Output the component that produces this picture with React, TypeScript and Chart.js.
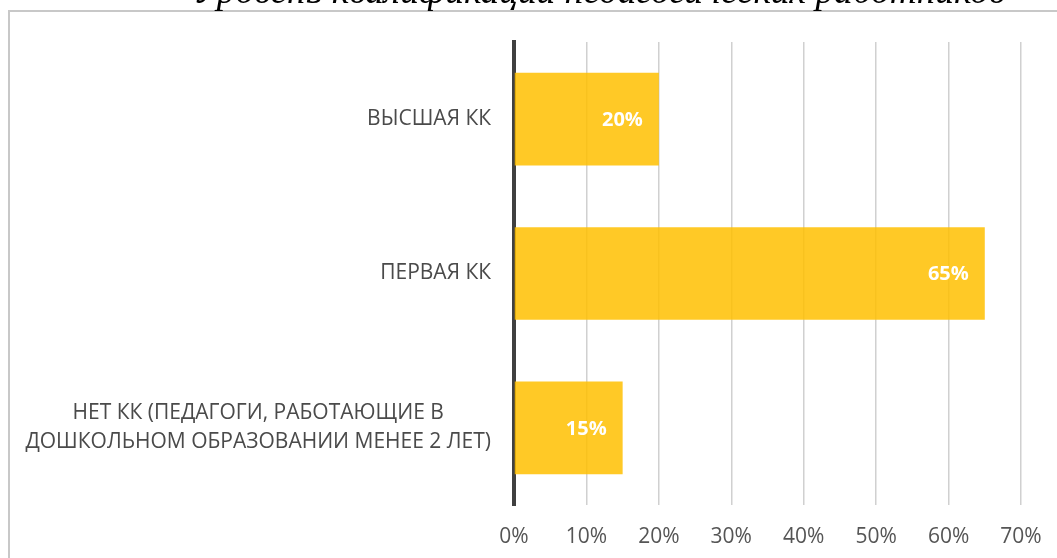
import React, { useEffect, useRef } from "react";
import { Chart, registerables } from "chart.js";

Chart.register(...registerables);

const TITLE = "Уровень квалификации педагогических работников";
const categories: string[][] = [
  ["ВЫСШАЯ КК"],
  ["ПЕРВАЯ КК"],
  ["НЕТ КК (ПЕДАГОГИ, РАБОТАЮЩИЕ В", "ДОШКОЛЬНОМ ОБРАЗОВАНИИ МЕНЕЕ 2 ЛЕТ)"],
];
const values: number[] = [20, 65, 15];
const xTicks: number[] = [0, 10, 20, 30, 40, 50, 60, 70];

const FONT = "'Open Sans', 'Noto Sans', sans-serif";

const framePlugin = {
  id: "frame",
  beforeDraw(chart: any) {
    const ctx = chart.ctx;
    ctx.save();
    ctx.fillStyle = "#ffffff";
    ctx.fillRect(0, 0, chart.width, chart.height);
    ctx.strokeStyle = "#c8c8c8";
    ctx.lineWidth = 2;
    ctx.beginPath();
    ctx.moveTo(9, chart.height + 5);
    ctx.lineTo(9, 11);
    ctx.lineTo(chart.width + 5, 11);
    ctx.stroke();
    // title (cut off at top)
    ctx.fillStyle = "#000000";
    ctx.textAlign = "center";
    ctx.textBaseline = "alphabetic";
    let size = 38;
    ctx.font = `italic ${size}px 'Liberation Serif', 'DejaVu Serif', serif`;
    const w = ctx.measureText(TITLE).width;
    size = size * (812 / w);
    ctx.font = `italic ${size}px 'Liberation Serif', 'DejaVu Serif', serif`;
    ctx.fillText(TITLE, 599, 3);
    ctx.restore();
  },
};

const labelsPlugin = {
  id: "catLabels",
  afterDraw(chart: any) {
    const ctx = chart.ctx;
    const yScale = chart.scales.y;
    ctx.save();
    ctx.font = `21px ${FONT}`;
    ctx.fillStyle = "#4a4a4a";
    ctx.textAlign = "center";
    ctx.textBaseline = "middle";
    const right = 491;
    const lh = 29;
    categories.forEach((lines, i) => {
      const cy = yScale.getPixelForValue(i);
      const maxW = Math.max(...lines.map((l) => ctx.measureText(l).width));
      const cx = right - maxW / 2;
      const startY = cy - ((lines.length - 1) * lh) / 2;
      lines.forEach((l, j) => ctx.fillText(l, cx, startY + j * lh));
    });
    // value labels
    const meta = chart.getDatasetMeta(0);
    ctx.font = `bold 20px ${FONT}`;
    ctx.fillStyle = "#ffffff";
    ctx.textAlign = "right";
    meta.data.forEach((bar: any, i: number) => {
      ctx.fillText(values[i] + "%", bar.x - 16, bar.y + 1);
    });
    ctx.restore();
  },
};

export default function App() {
  const ref = useRef<HTMLCanvasElement | null>(null);
  useEffect(() => {
    if (!ref.current) return;
    const chart = new Chart(ref.current, {
      type: "bar",
      data: {
        labels: categories.map((c) => c.join(" ")),
        datasets: [
          {
            data: values,
            backgroundColor: "rgba(255,192,0,0.85)",
            borderWidth: 0,
            barPercentage: 0.6,
            categoryPercentage: 1,
          },
        ],
      },
      options: {
        indexAxis: "y",
        animation: false,
        responsive: false,
        devicePixelRatio: 1,
        layout: { padding: { left: 0, right: 36, top: 42, bottom: 0 } },
        plugins: {
          legend: { display: false },
          tooltip: { enabled: false },
          title: { display: false },
        },
        scales: {
          x: {
            min: 0,
            max: 70,
            afterBuildTicks: (scale: any) => {
              scale.ticks = xTicks.map((v) => ({ value: v }));
            },
            grid: {
              color: "#d0d0d0",
              lineWidth: 1.5,
              drawTicks: false,
            },
            border: { display: false },
            ticks: {
              padding: 19,
              color: "#555555",
              font: { family: FONT, size: 21 },
              callback: (v: any) => v + "%",
            },
            afterFit: (scale: any) => {
              scale.height = 53;
              scale.paddingLeft = 0;
              scale.paddingRight = 0;
            },
          },
          y: {
            grid: { display: false },
            border: { display: true, color: "#404040", width: 4 },
            ticks: { display: false },
            afterFit: (scale: any) => {
              scale.width = 514;
            },
          },
        },
      },
      plugins: [framePlugin, labelsPlugin],
    });
    return () => chart.destroy();
  }, []);
  return (
    <div style={{ position: "absolute", left: 0, top: 0, width: 1057, height: 558 }}>
      <canvas ref={ref} width={1057} height={558} style={{ display: "block" }} />
    </div>
  );
}
